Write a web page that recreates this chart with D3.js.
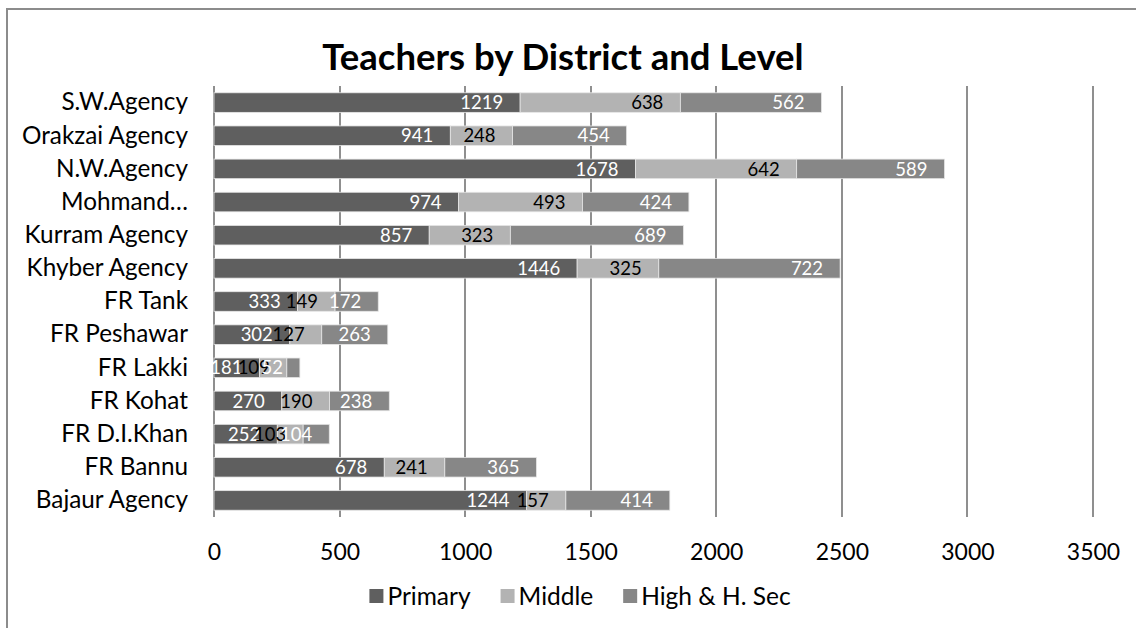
<!DOCTYPE html>
<html><head><meta charset="utf-8">
<script src="https://cdn.jsdelivr.net/npm/d3@7"></script>
<style>
html,body{margin:0;padding:0;background:#fff;}
svg{display:block;font-family:Lato,"Open Sans",sans-serif;}
</style></head>
<body>
<svg id="chart" width="1136" height="628"></svg>
<script>
const categories = ["S.W.Agency","Orakzai Agency","N.W.Agency","Mohmand…","Kurram Agency","Khyber Agency","FR Tank","FR Peshawar","FR Lakki","FR Kohat","FR D.I.Khan","FR Bannu","Bajaur Agency"];
const primary = [1219,941,1678,974,857,1446,333,302,181,270,252,678,1244];
const middle  = [638,248,642,493,323,325,149,127,109,190,103,241,157];
const high    = [562,454,589,424,689,722,172,263,52,238,104,365,414];
const seriesNames = ["Primary","Middle","High & H. Sec"];
const xTicks = [0,500,1000,1500,2000,2500,3000,3500];
const title = "Teachers by District and Level";

const colors = ["#5f5f5f","#b3b3b3","#878787"];
const labelColors = ["#ffffff","#000000","#ffffff"];

const svg = d3.select("#chart");
const m = {left:214, right:1093, top:86, bottom:517};

// frame (top and left edges visible)
svg.append("rect").attr("x",7).attr("y",9).attr("width",1200).attr("height",700)
  .attr("fill","none").attr("stroke","#8c8c8c").attr("stroke-width",2);

svg.append("text").attr("x",563).attr("y",70).attr("text-anchor","middle")
  .attr("font-size",36.5).attr("font-weight","bold").attr("fill","#000").text(title);

const x = d3.scaleLinear().domain([0,3500]).range([m.left,m.right]);
const y = d3.scaleBand().domain(categories).range([m.top,m.bottom]).paddingInner(0.41).paddingOuter(0.205);

const data = categories.map((c,i)=>({cat:c, Primary:primary[i], Middle:middle[i], "High & H. Sec":high[i]}));
const stack = d3.stack().keys(seriesNames)(data);

// gridlines
svg.append("g").selectAll("line").data(xTicks).join("line")
  .attr("x1",d=>Math.round(x(d))).attr("x2",d=>Math.round(x(d)))
  .attr("y1",m.top).attr("y2",m.bottom)
  .attr("stroke","#8f8f8f").attr("stroke-width",2);

// bars
const gs = svg.append("g").selectAll("g").data(stack).join("g").attr("fill",(d,i)=>colors[i]);
gs.selectAll("rect").data(d=>d).join("rect")
  .attr("x",d=>x(d[0])).attr("width",d=>x(d[1])-x(d[0]))
  .attr("y",d=>y(d.data.cat)).attr("height",y.bandwidth())
  .attr("stroke","#e6e6e6").attr("stroke-width",0.8);

// data labels (inside end)
stack.forEach((s,si)=>{
  svg.append("g").selectAll("text").data(s).join("text")
    .attr("x",d=>x(d[1])-17).attr("y",d=>y(d.data.cat)+y.bandwidth()/2)
    .attr("dy","0.36em").attr("text-anchor","end")
    .attr("font-size",18.5).attr("fill",labelColors[si])
    .text(d=>d[1]-d[0]);
});

// category axis labels
const yAxis = d3.axisLeft(y).tickSize(0).tickPadding(26);
const ya = svg.append("g").attr("transform",`translate(${m.left},0)`).call(yAxis);
ya.select(".domain").remove();
ya.selectAll("text").attr("font-size",24.3).attr("fill","#000").attr("font-family","Lato");

// value axis labels
const xAxis = d3.axisBottom(x).tickValues(xTicks).tickSize(0).tickPadding(0).tickFormat(d3.format("d"));
const xa = svg.append("g").attr("transform",`translate(0,${m.bottom})`).call(xAxis);
xa.select(".domain").remove();
xa.selectAll("text").attr("font-size",23).attr("fill","#000").attr("font-family","Lato")
  .attr("y",35).attr("dy","0.36em");

// legend
const lg = svg.append("g");
let lx = 0;
seriesNames.forEach((n,i)=>{
  const g = lg.append("g");
  g.append("rect").attr("x",0).attr("y",-7).attr("width",14).attr("height",14).attr("fill",colors[i]);
  const t = g.append("text").attr("x",18).attr("y",0).attr("dy","0.36em").attr("font-size",24.5).attr("fill","#000").text(n);
  const w = 18 + t.node().getComputedTextLength();
  g.attr("transform",`translate(${lx},0)`);
  lx += w + 30;
});
const total = lx - 30;
lg.attr("transform",`translate(${580 - total/2},596)`);
</script>
</body></html>
